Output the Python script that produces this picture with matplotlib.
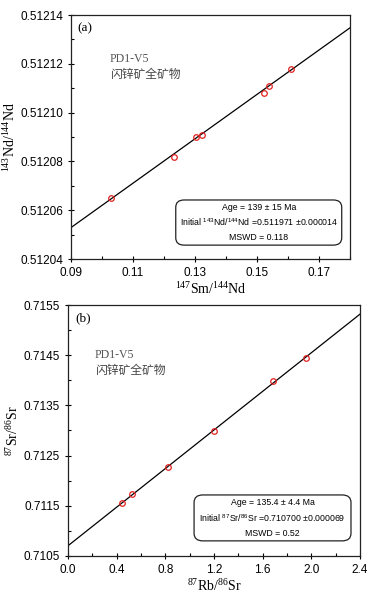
import numpy as np
import matplotlib.pyplot as plt
from matplotlib.patches import FancyBboxPatch
from matplotlib.ticker import MultipleLocator, FormatStrFormatter

# (a) Sm-Nd isochron
sm_nd = [0.1031, 0.1233, 0.1303, 0.1322, 0.1523, 0.1540, 0.1610]
nd_nd = [0.512065, 0.512082, 0.512090, 0.512091, 0.512108, 0.512111, 0.512118]
nd_age, nd_init = 139.0, 0.511971

# (b) Rb-Sr isochron
rb_sr = [0.443, 0.528, 0.821, 1.204, 1.689, 1.957]
sr_sr = [0.711562, 0.711728, 0.712280, 0.712990, 0.713986, 0.714438]
sr_age, sr_init = 135.4, 0.710700

LAMBDA_SM = 6.54e-12
LAMBDA_RB = 1.42e-11

SERIF = 'Liberation Serif'
CJK = ['Noto Sans CJK SC', 'DejaVu Sans']

plt.rcParams['font.family'] = 'Liberation Sans'
plt.rcParams['mathtext.fontset'] = 'custom'
plt.rcParams['mathtext.rm'] = 'Liberation Serif'
plt.rcParams['mathtext.sf'] = 'Liberation Sans'

fig = plt.figure(figsize=(3.79, 6.01), dpi=100)
ax1 = fig.add_axes([0.187, 0.569, 0.736, 0.406])
ax2 = fig.add_axes([0.179, 0.075, 0.771, 0.4175])


def style(ax, xmaj, ymaj, yoff, xfmt, yfmt):
    ax.xaxis.set_major_locator(MultipleLocator(xmaj))
    ax.xaxis.set_minor_locator(MultipleLocator(xmaj / 2))
    ax.yaxis.set_major_locator(MultipleLocator(ymaj, offset=yoff))
    ax.yaxis.set_minor_locator(MultipleLocator(ymaj / 2))
    ax.xaxis.set_major_formatter(FormatStrFormatter(xfmt))
    ax.yaxis.set_major_formatter(FormatStrFormatter(yfmt))
    ax.tick_params(which='major', direction='inout', length=5, width=0.8,
                   labelsize=8.5, pad=3)
    ax.tick_params(which='minor', direction='in', length=2.5, width=0.8)
    for s in ax.spines.values():
        s.set_linewidth(0.9)
        s.set_color('#222222')


def info_box(ax, x0, y0, w, h, lines):
    box = FancyBboxPatch((x0, y0), w, h, boxstyle='round,pad=0,rounding_size=0.03',
                         transform=ax.transAxes, facecolor='white',
                         edgecolor='#222222', linewidth=0.9, zorder=3)
    ax.add_patch(box)
    n = len(lines)
    for i, t in enumerate(lines):
        ax.text(x0 + w / 2, y0 + h * (1 - (i + 0.5) / n), t, transform=ax.transAxes,
                ha='center', va='center', fontsize=6.3, zorder=4)


def labels(ax, tag, tx, ty):
    ax.text(0.025, 0.947, tag, transform=ax.transAxes, family=SERIF,
            fontsize=9.5, va='center')
    ax.text(tx, ty, 'PD1-V5', transform=ax.transAxes, family=SERIF,
            fontsize=8.5, color='#555555', va='center')
    ax.text(tx, ty - 0.062, '闪锌矿全矿物', transform=ax.transAxes, family=CJK,
            fontsize=8.5, color='#444444', va='center')


# panel (a)
xs = np.array([0.09, 0.18])
slope = np.exp(LAMBDA_SM * nd_age * 1e6) - 1
ax1.plot(xs, nd_init + slope * xs, color='black', lw=0.9, zorder=2)
ax1.plot(sm_nd, nd_nd, 'o', ms=4, mfc='none', mec='#e02020', mew=0.9, zorder=3)
ax1.set_xlim(0.09, 0.18)
ax1.set_ylim(0.51204, 0.51214)
style(ax1, 0.02, 0.00002, 0.0, '%.2f', '%.5f')
ax1.xaxis.set_major_locator(MultipleLocator(0.02, offset=0.01))
ax1.set_xlabel(r'$^{147}$Sm/$^{144}$Nd', family=SERIF, fontsize=10, labelpad=1)
ax1.set_ylabel(r'$^{143}$Nd/$^{144}$Nd', family=SERIF, fontsize=10, labelpad=2)
labels(ax1, '(a)', 0.14, 0.818)
info_box(ax1, 0.376, 0.057, 0.595, 0.185,
         ['Age = 139 ± 15 Ma',
          r'Initial $^{\mathsf{143}}$Nd/$^{\mathsf{144}}$Nd =0.511971 ±0.000014',
          'MSWD = 0.118'])

# panel (b)
xs = np.array([0.0, 2.4])
slope = np.exp(LAMBDA_RB * sr_age * 1e6) - 1
ax2.plot(xs, sr_init + slope * xs, color='black', lw=0.9, zorder=2)
ax2.plot(rb_sr, sr_sr, 'o', ms=4, mfc='none', mec='#e02020', mew=0.9, zorder=3)
ax2.set_xlim(0.0, 2.4)
ax2.set_ylim(0.7105, 0.7155)
style(ax2, 0.4, 0.001, 0.0005, '%.1f', '%.4f')
ax2.set_xlabel(r'$^{87}$Rb/$^{86}$Sr', family=SERIF, fontsize=10, labelpad=1)
ax2.set_ylabel(r'$^{87}$Sr/$^{86}$Sr', family=SERIF, fontsize=10, labelpad=2)
labels(ax2, '(b)', 0.092, 0.80)
info_box(ax2, 0.432, 0.06, 0.537, 0.183,
         ['Age = 135.4 ± 4.4 Ma',
          r'Initial $^{\mathsf{87}}$Sr/$^{\mathsf{86}}$Sr =0.710700 ±0.000069',
          'MSWD = 0.52'])

fig.savefig('out.png', dpi=100)
